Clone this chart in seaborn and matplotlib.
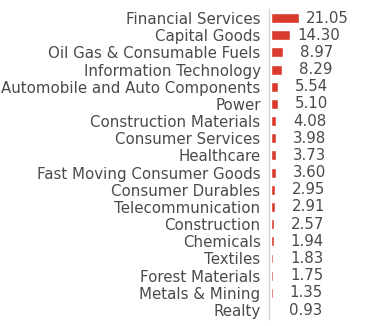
import matplotlib
matplotlib.use("Agg")
import matplotlib.pyplot as plt
import seaborn as sns
import pandas as pd

categories = ["Financial Services", "Capital Goods", "Oil Gas & Consumable Fuels",
              "Information Technology", "Automobile and Auto Components", "Power",
              "Construction Materials", "Consumer Services", "Healthcare",
              "Fast Moving Consumer Goods", "Consumer Durables", "Telecommunication",
              "Construction", "Chemicals", "Textiles", "Forest Materials",
              "Metals & Mining", "Realty"]
values = [21.05, 14.30, 8.97, 8.29, 5.54, 5.10, 4.08, 3.98, 3.73, 3.60,
          2.95, 2.91, 2.57, 1.94, 1.83, 1.75, 1.35, 0.93]
labels = ["21.05", "14.30", "8.97", "8.29", "5.54", "5.10", "4.08", "3.98", "3.73",
          "3.60", "2.95", "2.91", "2.57", "1.94", "1.83", "1.75", "1.35", "0.93"]

sns.set_theme(style="white")
plt.rcParams['font.family'] = ['DejaVu Sans']

df = pd.DataFrame({"sector": categories, "value": values})

fig = plt.figure(figsize=(3.73, 3.26), dpi=100)
ax = fig.add_axes([271/373, 0.0227, 100/373, 0.9483])
sns.barplot(data=df, y="sector", x="value", color="#d93a2e", width=0.58,
            saturation=1, ax=ax, orient="h")
ax.set_xlim(0, 75)
ax.set_xlabel("")
ax.set_ylabel("")
ax.set_xticks([])
for s in ["top", "right", "bottom"]:
    ax.spines[s].set_visible(False)
ax.spines["left"].set_color("#d4d4d4")
ax.spines["left"].set_linewidth(1.0)
ax.spines["left"].set_position(("outward", 1.5))
ax.tick_params(axis="y", length=3, width=1, color="#d4d4d4", pad=3.0,
               labelsize=10.8, labelcolor="#4a4a4a")

for i, (v, lab) in enumerate(zip(values, labels)):
    ax.annotate(lab, xy=(v, i), xytext=(50, 0), textcoords="offset pixels",
                ha="right", va="center", fontsize=10.8, color="#4a4a4a")

fig.savefig("out.png", dpi=100)
